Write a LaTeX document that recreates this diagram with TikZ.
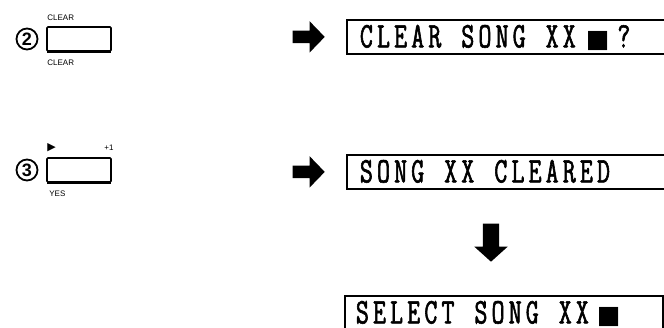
\documentclass[tikz,border=0pt]{standalone}
\usepackage{fontspec}
\setmainfont{Liberation Sans}
\newfontfamily\lcdfont{Latin Modern Mono}[FakeStretch=0.70,LetterSpace=11.5,FakeBold=1.6]
\newfontfamily\symfont{DejaVu Sans}
\usetikzlibrary{positioning,shapes.arrows}
\definecolor{kbdInk}{HTML}{000000}
\newcommand{\lcdblock}{{\fontsize{25}{25}\symfont ■}}
\newcommand{\lcdgap}{\hspace*{20pt}}
\tikzset{
  kbd key/.style={draw=kbdInk, line width=1.6pt, rounded corners=1pt, minimum width=64pt, minimum height=24pt, inner sep=0pt},
  kbd key edge/.style={draw=kbdInk, line width=2.6pt},
  kbd counter/.style={circle, draw=kbdInk, line width=1.8pt, minimum size=21pt, inner sep=0pt, font=\fontsize{18}{18}\selectfont\bfseries, text=kbdInk},
  kbd small label/.style={inner sep=0pt, font=\fontsize{8}{8}\selectfont, text=kbdInk},
  kbd display/.style={draw=kbdInk, line width=1.8pt, anchor=north west, inner xsep=13pt, inner ysep=0pt, text height=21pt, text depth=0pt, minimum height=34pt, text width=308pt, align=left, font=\fontsize{36}{36}\lcdfont, text=kbdInk},
  kbd arrow/.style={single arrow, fill=kbdInk, draw=none, inner sep=6pt, single arrow head extend=9.5pt, single arrow tip angle=92, minimum height=32pt},
}
\begin{document}
\begin{tikzpicture}[x=1pt,y=-1pt]
  \useasboundingbox (0,0) rectangle (664,328);
  \clip (0,0) rectangle (664,328);
  % Step numbers and key caps
  \foreach \n/\y in {2/39,3/170} {
    \node[kbd counter] (num\n) at (27,\y) {\n};
    \node[kbd key] (key\n) at (79,\y) {};
    \draw[kbd key edge] ([xshift=1pt]key\n.south west) -- ([xshift=-1pt]key\n.south east);
  }
  % Key labels
  \node[kbd small label, above right=5.5pt and 1pt of key2.north west] (clrTop) {CLEAR};
  \node[kbd small label, below right=7.5pt and 1pt of key2.south west] (clrBot) {CLEAR};
  \node[kbd small label, font=\fontsize{11}{11}\symfont, above right=5pt and 1pt of key3.north west] (play) {▶};
  \node[kbd small label, above left=6pt and -2pt of key3.north east] (plusOne) {+1};
  \node[kbd small label, below right=8pt and 3pt of key3.south west] (yes) {YES};
  % Display messages
  \node[kbd display] (disp1) at (346,19) {CLEAR\lcdgap SONG\lcdgap XX\kern10pt\lcdblock\kern8pt?};
  \node[kbd display] (disp2) at (346,154) {SONG\lcdgap XX\lcdgap CLEARED};
  \node[kbd display, inner xsep=11pt, text width=296pt] (disp3) at (344,295) {SELECT\lcdgap SONG\lcdgap XX\kern8pt\lcdblock};
  % Block arrows
  \node[kbd arrow, left=21pt of disp1] (go1) {};
  \node[kbd arrow, left=21pt of disp2] (go2) {};
  \node[kbd arrow, inner sep=8pt, single arrow head extend=8.5pt, single arrow tip angle=96, minimum height=38pt, shape border rotate=270] (go3) at (491,239) {};
\end{tikzpicture}
\end{document}
